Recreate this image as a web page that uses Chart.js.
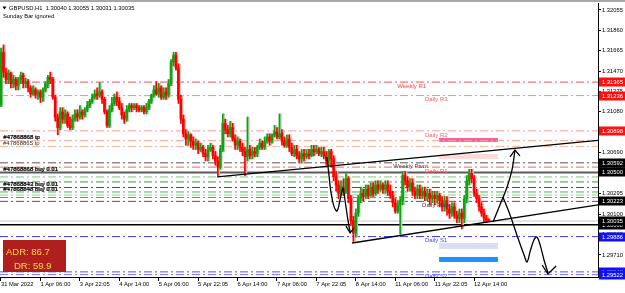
<!DOCTYPE html>
<html>
<head>
<meta charset="utf-8">
<script src="https://cdn.jsdelivr.net/npm/chart.js@4.4.1/dist/chart.umd.min.js"></script>
<style>
html, body { margin: 0; padding: 0; background: #fff; }
</style>
</head>
<body>
<canvas id="chart" width="625" height="293"></canvas>
<script>
// GBPUSD H1 candles (one value per hourly bar)
const firstOpen = 1.3115;
const closes = [
 1.3165,1.3146,1.3139,1.3145,1.3135,1.3139,1.3133,1.3139,1.3143,1.3135,
 1.3137,1.3131,1.3125,1.3129,1.3124,1.3127,1.3122,1.3129,1.3135,1.3141,
 1.3139,1.3122,1.3103,1.3093,1.3108,1.3101,1.3106,1.3095,1.3093,1.3101,
 1.3106,1.3103,1.3108,1.3105,1.3110,1.3114,1.3118,1.3122,1.3125,1.3124,
 1.3127,1.3120,1.3108,1.3095,1.3110,1.3116,1.3122,1.3118,1.3112,1.3105,
 1.3101,1.3110,1.3114,1.3112,1.3114,1.3112,1.3110,1.3112,1.3108,1.3112,
 1.3118,1.3124,1.3129,1.3125,1.3131,1.3122,1.3127,1.3124,1.3135,1.3156,
 1.3162,1.3150,1.3120,1.3101,1.3087,1.3082,1.3086,1.3080,1.3076,1.3078,
 1.3072,1.3074,1.3068,1.3065,1.3072,1.3074,1.3066,1.3061,1.3055,1.3072,
 1.3097,1.3091,1.3087,1.3093,1.3082,1.3076,1.3080,1.3074,1.3070,1.3065,
 1.3072,1.3066,1.3070,1.3068,1.3074,1.3078,1.3074,1.3080,1.3084,1.3080,
 1.3086,1.3089,1.3084,1.3087,1.3080,1.3076,1.3082,1.3074,1.3068,1.3072,
 1.3066,1.3063,1.3068,1.3065,1.3068,1.3066,1.3072,1.3070,1.3072,1.3068,
 1.3070,1.3066,1.3061,1.3070,1.3063,1.3046,1.3038,1.3030,1.3036,1.3032,
 1.3044,1.3025,1.3004,1.2992,1.3011,1.3025,1.3030,1.3027,1.3034,1.3028,
 1.3036,1.3030,1.3038,1.3034,1.3038,1.3034,1.3038,1.3032,1.3028,1.3021,
 1.3013,1.3019,1.3023,1.3047,1.3042,1.3036,1.3040,1.3032,1.3028,1.3034,
 1.3028,1.3032,1.3027,1.3030,1.3025,1.3028,1.3025,1.3028,1.3023,1.3017,
 1.3023,1.3015,1.3011,1.3017,1.3009,1.3006,1.3011,1.3006,1.3025,1.3042,
 1.3049,1.3044,1.3030,1.3025,1.3017,1.3011,1.3006,1.3004,1.30035
];
const highs = [
 1.3169,1.3172,1.3150,1.3148,1.3146,1.3143,1.3141,1.3141,1.3146,1.3145,
 1.3140,1.3139,1.3133,1.3133,1.3131,1.3129,1.3129,1.3131,1.3137,1.3143,
 1.3146,1.3141,1.3124,1.3106,1.3112,1.3112,1.3110,1.3108,1.3103,1.3105,
 1.3110,1.3110,1.3114,1.3110,1.3112,1.3118,1.3120,1.3125,1.3129,1.3131,
 1.3136,1.3129,1.3122,1.3110,1.3114,1.3122,1.3125,1.3127,1.3122,1.3116,
 1.3108,1.3114,1.3116,1.3116,1.3116,1.3116,1.3114,1.3114,1.3114,1.3116,
 1.3120,1.3125,1.3133,1.3137,1.3135,1.3133,1.3131,1.3131,1.3139,1.3158,
 1.3165,1.3165,1.3154,1.3124,1.3105,1.3091,1.3089,1.3087,1.3084,1.3082,
 1.3080,1.3078,1.3076,1.3072,1.3076,1.3078,1.3076,1.3070,1.3065,1.3076,
 1.3106,1.3101,1.3095,1.3099,1.3097,1.3086,1.3084,1.3082,1.3078,1.3074,
 1.3103,1.3076,1.3074,1.3074,1.3076,1.3082,1.3080,1.3084,1.3087,1.3087,
 1.3087,1.3095,1.3093,1.3106,1.3091,1.3084,1.3086,1.3086,1.3078,1.3076,
 1.3076,1.3070,1.3072,1.3072,1.3072,1.3072,1.3076,1.3076,1.3076,1.3074,
 1.3074,1.3074,1.3070,1.3072,1.3072,1.3066,1.3051,1.3042,1.3042,1.3044,
 1.3049,1.3046,1.3028,1.3008,1.3015,1.3028,1.3036,1.3034,1.3038,1.3038,
 1.3040,1.3040,1.3042,1.3042,1.3042,1.3040,1.3042,1.3042,1.3038,1.3032,
 1.3025,1.3023,1.3027,1.3051,1.3051,1.3046,1.3044,1.3044,1.3036,1.3038,
 1.3038,1.3036,1.3036,1.3034,1.3034,1.3032,1.3032,1.3032,1.3030,1.3027,
 1.3027,1.3027,1.3019,1.3021,1.3021,1.3013,1.3015,1.3015,1.3028,1.3047,
 1.3053,1.3053,1.3047,1.3034,1.3028,1.3021,1.3015,1.3009,1.30055
];
const lows = [
 1.3113,1.3141,1.3135,1.3135,1.3131,1.3131,1.3129,1.3129,1.3135,1.3131,
 1.3131,1.3127,1.3122,1.3124,1.3121,1.3120,1.3117,1.3118,1.3127,1.3131,
 1.3135,1.3120,1.3099,1.3086,1.3091,1.3097,1.3097,1.3093,1.3091,1.3091,
 1.3099,1.3099,1.3101,1.3101,1.3103,1.3108,1.3112,1.3116,1.3120,1.3120,
 1.3122,1.3116,1.3106,1.3093,1.3093,1.3108,1.3114,1.3114,1.3110,1.3101,
 1.3097,1.3099,1.3108,1.3108,1.3110,1.3108,1.3108,1.3108,1.3106,1.3106,
 1.3110,1.3116,1.3122,1.3124,1.3122,1.3120,1.3120,1.3120,1.3122,1.3133,
 1.3152,1.3148,1.3116,1.3097,1.3084,1.3076,1.3076,1.3074,1.3072,1.3072,
 1.3068,1.3070,1.3065,1.3061,1.3061,1.3070,1.3063,1.3057,1.3047,1.3053,
 1.3070,1.3087,1.3084,1.3084,1.3080,1.3072,1.3072,1.3070,1.3066,1.3047,
 1.3061,1.3063,1.3063,1.3065,1.3065,1.3072,1.3072,1.3072,1.3078,1.3076,
 1.3078,1.3084,1.3082,1.3082,1.3076,1.3074,1.3074,1.3070,1.3066,1.3065,
 1.3063,1.3059,1.3059,1.3061,1.3063,1.3063,1.3065,1.3066,1.3068,1.3066,
 1.3065,1.3063,1.3057,1.3057,1.3055,1.3042,1.3032,1.3025,1.3028,1.3028,
 1.3030,1.3021,1.3000,1.2984,1.2988,1.3008,1.3021,1.3023,1.3025,1.3025,
 1.3027,1.3027,1.3028,1.3030,1.3032,1.3030,1.3030,1.3028,1.3025,1.3017,
 1.3011,1.3011,1.2991,1.3019,1.3038,1.3032,1.3032,1.3028,1.3025,1.3025,
 1.3025,1.3025,1.3023,1.3023,1.3019,1.3021,1.3019,1.3021,1.3017,1.3013,
 1.3013,1.3009,1.3006,1.3008,1.3006,1.3002,1.3002,1.2996,1.3002,1.3021,
 1.3038,1.3040,1.3027,1.3021,1.3013,1.3008,1.3002,1.3002,1.30031
];
const headerOpen = 1.30040;

// time axis: one label every 16 bars
const xLabels = ['31 Mar 2022','1 Apr 06:00','3 Apr 22:05','4 Apr 14:00','5 Apr 06:00','5 Apr 22:05',
  '6 Apr 14:00','7 Apr 06:00','7 Apr 22:05','8 Apr 14:00','11 Apr 06:00','11 Apr 22:05','12 Apr 14:00'];
const barsPerLabel = 16;
const yTicks = [1.32055,1.31860,1.31665,1.31470,1.31275,1.31080,1.30885,1.30690,1.30495,1.30295,1.30100,1.29905,1.29710];
const yMin = 1.29499, yMax = 1.32122;
const xMin = -0.4, xMax = 242.3;

// horizontal levels (pivots, order lines, bid)
const levelPrices = [1.31365,1.31236,1.30898,1.30804,1.30749,1.30592,1.30551,1.30500,1.30457,1.30409,
  1.30356,1.30313,1.30284,1.30260,1.30223,1.30035,1.30000,1.29886,1.29548,1.29522];
const levelColors = ['#ff4d4d','#ff8c8c','#ff9a9a','#ffa492','#ffb89c','#555555','#ff6060','#5a5a5a','#80c880','#3c9c3c',
  '#0a7d0a','#4fae4f','#90cf90','#5aa85a','#555555','#c8c8c8','#000000','#3b3bff','#5050ff','#7474ff'];
const levelSolid = [7, 15, 16];

const pivotNames = ['Weekly R1','Daily R3','Daily R2','Daily R1','Weekly Pivot','Daily Pivot','Daily S1','Daily S2'];
const pivotPrices = [1.31365,1.31236,1.30898,1.30551,1.30592,1.30223,1.29886,1.29548];
const pivotAt = [160.8,172.1,172.1,172.1,159.2,170.9,172.1,172.1];
const pivotInk = ['#ff4040','#ff5a5a','#ff6464','#ff4a4a','#404040','#404040','#4646ff','#4646ff'];

const orderNames = ['#47868868 tp','#47868865 tp','#47868868 buy 0.01','#47868843 buy 0.01','#47868848 buy 0.01'];
const orderPrices = [1.30804,1.30749,1.30500,1.30356,1.30313];

// zones on the right
const zoneTop = [1.30830,1.30677,1.29825,1.29691];
const zoneBottom = [1.30792,1.30629,1.29768,1.29643];
const zoneFrom = 177.8, zoneTo = 201.7;
const zoneColors = ['#f7609f','#ffdada','#dcdcf6','#1e8fff'];

// trend lines and hand-drawn arrows, [bar, price]
const upperLine = [[87.7,1.30457],[242.3,1.30807]];
const lowerLine = [[142.5,1.29825],[242.3,1.30190]];
const arrowA = [[132.3,1.30648],[133.1,1.30476],[133.9,1.30313],[135.2,1.30170],[136.4,1.30131],[137.6,1.30236],
  [138.8,1.30351],[139.6,1.30236],[140.8,1.30045],[141.7,1.29930]];
const arrowAHead = [[140.0,1.29988],[141.7,1.29921],[143.3,1.29969]];
const arrowB = [[199.7,1.30026],[202.5,1.30189],[205.4,1.30361],[207.4,1.30524],[208.6,1.30715]];
const arrowBHead = [[206.6,1.30648],[208.6,1.30715],[210.6,1.30658]];
const arrowC = [[203.7,1.30265],[206.6,1.30093],[209.8,1.29873],[212.3,1.29710],[213.5,1.29643],[214.7,1.29739],
  [216.3,1.29854],[217.5,1.29882],[218.8,1.29806],[220.4,1.29662],[222.0,1.29538]];
const arrowCHead = [[219.6,1.29614],[222.0,1.29528],[225.3,1.29605]];

// right-axis price boxes
const axisMarks = [1.31365,1.31236,1.30898,1.30551,1.30592,1.30500,1.30223,1.30000,1.30035,1.29886,1.29548,1.29522];
const axisMarkColors = ['#ff1010','#ff1010','#ff1010','#ff1010','#000','#000','#000','#000','#000','#1010ff','#1010ff','#1010ff'];

const adrValue = 86.7, drValue = 59.9;

const FONT = '"Liberation Sans", Arial, sans-serif';
const upColor = '#14a014', downColor = '#ff0000';
const upPale = '#a4d6a4', downPale = '#ffb0b0';

const opens = closes.map((c, i) => i === 0 ? firstOpen : closes[i - 1]);
opens[opens.length - 1] = headerOpen;
const isUp = closes.map((c, i) => c >= opens[i]);
const candleColor = isUp.map(u => u ? upColor : downColor);
const paleColor = isUp.map(u => u ? upPale : downPale);

const pts = arr => arr.map(p => ({x: p[0], y: p[1]}));

let datasets = [];

// trend lines / arrows on top
[upperLine, lowerLine].forEach(l => datasets.push({
  type: 'line', data: pts(l), borderColor: '#000', borderWidth: 1.4, pointRadius: 0, order: 0
}));
[arrowA, arrowB, arrowC].forEach(l => datasets.push({
  type: 'line', data: pts(l), borderColor: '#000', borderWidth: 1.3, pointRadius: 0, tension: 0.35, order: 0
}));
[arrowAHead, arrowBHead, arrowCHead].forEach(l => datasets.push({
  type: 'line', data: pts(l), borderColor: '#000', borderWidth: 1.3, pointRadius: 0, order: 0
}));

// candles
datasets.push({
  type: 'bar', data: closes.map((c, i) => ({x: i, y: [opens[i], c]})),
  backgroundColor: candleColor, barThickness: 2, grouped: false, minBarLength: 1, order: 1
});
datasets.push({
  type: 'bar', data: closes.map((c, i) => ({x: i, y: [lows[i], highs[i]]})),
  backgroundColor: candleColor, barThickness: 1, grouped: false, order: 2
});
// soft halo the reference shows beside each bar
datasets.push({
  type: 'bar', data: closes.map((c, i) => ({x: i + 0.45, y: [lows[i], highs[i]]})),
  backgroundColor: paleColor, barThickness: 1.6, grouped: false, order: 2.5
});

// level lines
levelPrices.forEach((p, i) => {
  const solid = levelSolid.includes(i);
  datasets.push({
    type: 'line', data: [{x: xMin, y: p}, {x: xMax, y: p}],
    borderColor: levelColors[i], borderWidth: i === 7 ? 2 : (i === 16 ? 1.5 : 1),
    borderDash: solid ? [] : [8, 3, 2, 3], pointRadius: 0, order: 3
  });
});

const overlay = {
  id: 'overlay',
  beforeDatasetsDraw(chart) {
    const {ctx, scales: {x, y}} = chart;
    ctx.save();
    zoneTop.forEach((t, i) => {
      const x0 = x.getPixelForValue(zoneFrom), x1 = x.getPixelForValue(zoneTo);
      const y0 = y.getPixelForValue(t), y1 = y.getPixelForValue(zoneBottom[i]);
      ctx.fillStyle = zoneColors[i];
      ctx.fillRect(x0, y0, x1 - x0, y1 - y0);
    });
    ctx.restore();
  },
  afterDraw(chart) {
    const {ctx, chartArea: a, scales: {x, y}} = chart;
    ctx.save();
    ctx.beginPath();
    ctx.rect(a.left, a.top, a.right - a.left, a.bottom - a.top);
    ctx.clip();
    ctx.textAlign = 'left';
    // pivot names
    ctx.font = '6px ' + FONT;
    ctx.textBaseline = 'top';
    pivotNames.forEach((n, i) => {
      ctx.fillStyle = pivotInk[i];
      ctx.fillText(n, x.getPixelForValue(pivotAt[i]), y.getPixelForValue(pivotPrices[i]) + 1);
    });
    // order labels
    ctx.textBaseline = 'bottom';
    orderNames.forEach((n, i) => {
      const py = y.getPixelForValue(orderPrices[i]);
      ctx.fillStyle = i === 1 ? '#303030' : '#000';
      ctx.fillText(n, a.left + 3, py);
      if (i !== 1) ctx.fillText(n, a.left + 3.6, py);
    });
    // ADR box
    ctx.fillStyle = '#b01e1e';
    ctx.fillRect(a.left + 3, 240, 63, 32);
    ctx.fillStyle = '#ffd84a';
    ctx.font = '9.5px ' + FONT;
    ctx.textBaseline = 'middle';
    ctx.fillText('ADR: ' + adrValue.toFixed(1), a.left + 6, 252);
    ctx.fillText('DR: ' + drValue.toFixed(1), a.left + 14, 266);
    // header
    ctx.fillStyle = '#000';
    ctx.font = '5.8px ' + FONT;
    const last = closes.length - 1;
    ctx.fillText('GBPUSD,H1  ' + [opens[last], highs[last], lows[last], closes[last]].map(v => v.toFixed(5)).join(' '), 9, 8);
    ctx.fillText('Sunday Bar ignored', 3, 16.5);
    ctx.beginPath();
    ctx.moveTo(2.5, 6.5); ctx.lineTo(6.5, 6.5); ctx.lineTo(4.5, 9.5); ctx.closePath();
    ctx.fill();
    ctx.restore();

    // right axis price boxes
    ctx.save();
    ctx.font = '5.8px ' + FONT;
    ctx.textBaseline = 'middle';
    axisMarks.forEach((p, i) => {
      const py = Math.round(y.getPixelForValue(p));
      ctx.fillStyle = axisMarkColors[i];
      ctx.fillRect(a.right + 1, py - 4.5, 27, 9);
      ctx.fillStyle = '#fff';
      ctx.fillText(p.toFixed(5), a.right + 4, py + 0.5);
    });
    // top strip
    ctx.fillStyle = '#a8a8a8';
    ctx.fillRect(0, 0, 625, 2);
    ctx.restore();
  }
};

new Chart(document.getElementById('chart'), {
  type: 'bar',
  data: {datasets},
  options: {
    responsive: false,
    animation: false,
    events: [],
    layout: {padding: {top: 3, left: 0, right: 0, bottom: 0}},
    plugins: {legend: {display: false}, tooltip: {enabled: false}},
    scales: {
      x: {
        type: 'linear', min: xMin, max: xMax, position: 'bottom', offset: false,
        afterFit: s => { s.height = 16; s.paddingLeft = 0; s.paddingRight = 0; },
        afterBuildTicks: s => { s.ticks = xLabels.map((l, i) => ({value: i * barsPerLabel})); },
        grid: {drawOnChartArea: false, offset: false, tickLength: 4, color: '#000'},
        border: {display: true, color: '#000'},
        ticks: {
          align: 'start', maxRotation: 0, autoSkip: false, padding: 0, color: '#000',
          font: {family: FONT, size: 5.8},
          callback: (v, i) => xLabels[i]
        }
      },
      y: {
        position: 'right', min: yMin, max: yMax,
        afterFit: s => { s.width = 27; s.paddingTop = 0; s.paddingBottom = 0; },
        afterBuildTicks: s => { s.ticks = yTicks.map(v => ({value: v})); },
        grid: {drawOnChartArea: false, tickLength: 3, color: '#000'},
        border: {display: true, color: '#000'},
        ticks: {
          autoSkip: false, padding: 1, color: '#000',
          font: {family: FONT, size: 5.8},
          callback: v => v.toFixed(5)
        }
      }
    }
  },
  plugins: [overlay]
});
</script>
</body>
</html>
